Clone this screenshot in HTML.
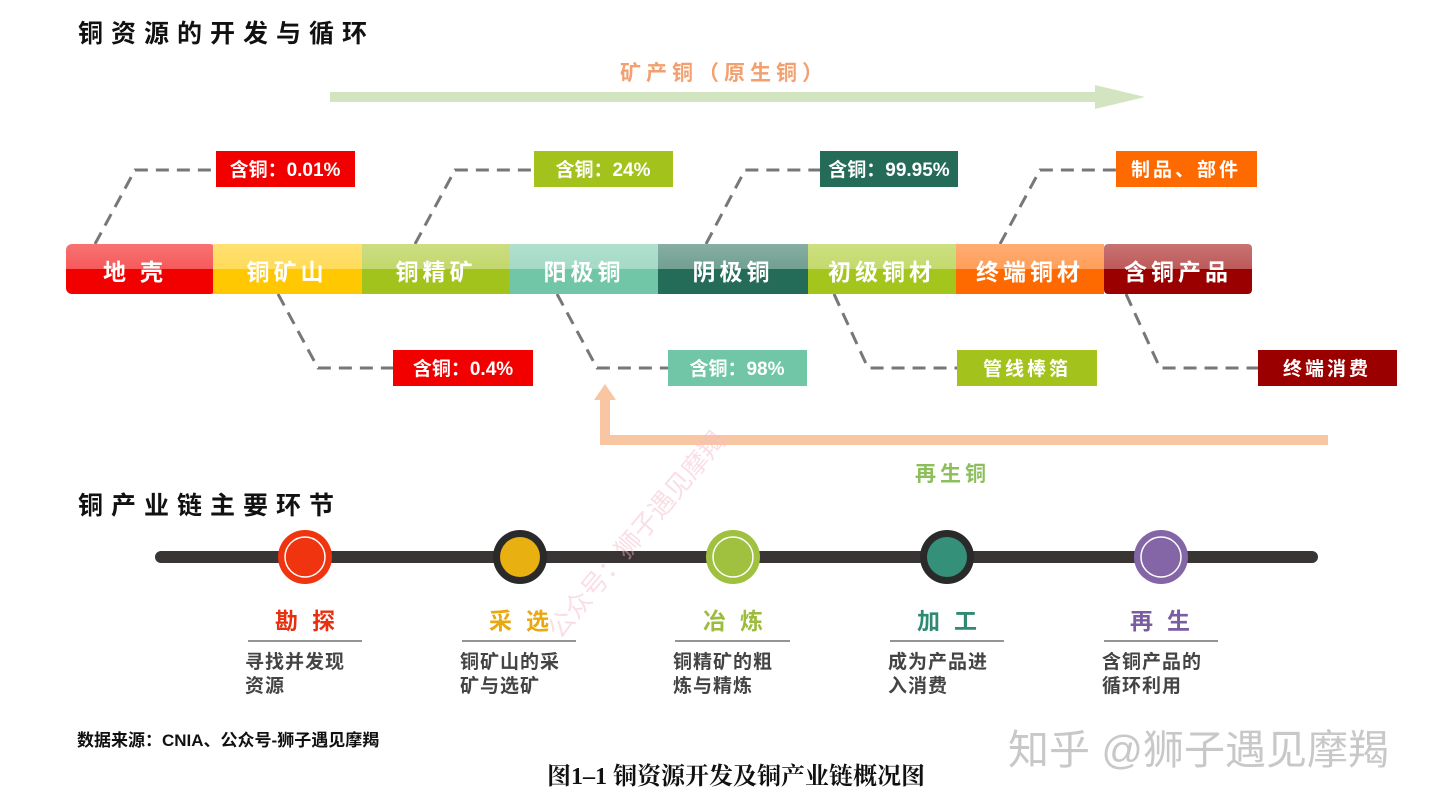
<!DOCTYPE html>
<html><head><meta charset="utf-8"><style>
html,body{margin:0;padding:0;background:#fff;}
svg{display:block;font-family:"Liberation Sans","Noto Sans CJK SC",sans-serif;}
</style></head><body>
<svg width="1440" height="808" viewBox="0 0 1440 808" xmlns="http://www.w3.org/2000/svg">
<defs>
<linearGradient id="g" x1="0" y1="0" x2="0" y2="1"><stop offset="0" stop-color="#fff" stop-opacity="0.45"/><stop offset="0.5" stop-color="#fff" stop-opacity="0.35"/><stop offset="0.5" stop-color="#fff" stop-opacity="0"/><stop offset="1" stop-color="#fff" stop-opacity="0"/></linearGradient>
</defs>
<text x="78" y="42" font-size="25" font-weight="bold" fill="#111" letter-spacing="8">铜资源的开发与循环</text>
<text x="620" y="80" font-size="21" font-weight="bold" fill="#f2a070" letter-spacing="5">矿产铜（原生铜）</text>
<rect x="330" y="92" width="775" height="10" fill="#d3e5c0"/>
<polygon points="1095,85 1145,97 1095,109" fill="#d3e5c0"/>

<g stroke="#777" stroke-width="3" stroke-dasharray="13,8" fill="none">
<polyline points="95,244 135,170 216,170"/>
<polyline points="415,244 455,170 534,170"/>
<polyline points="706,244 745,170 820,170"/>
<polyline points="1000,244 1040,170 1116,170"/>
<polyline points="278,294 318,368 393,368"/>
<polyline points="557,294 597,368 668,368"/>
<polyline points="834,294 868,368 957,368"/>
<polyline points="1126,294 1160,368 1258,368"/>
</g>

<rect x="66" y="244" width="150" height="50" rx="6" fill="#f20000"/>
<rect x="213" y="244" width="149" height="50" fill="#ffc800"/>
<rect x="362" y="244" width="148" height="50" fill="#a2c21c"/>
<rect x="510" y="244" width="148" height="50" fill="#72c6a8"/>
<rect x="658" y="244" width="150" height="50" fill="#256c58"/>
<rect x="808" y="244" width="148" height="50" fill="#a4c61c"/>
<rect x="956" y="244" width="148" height="50" fill="#ff6a00"/>
<rect x="1104" y="244" width="148" height="50" rx="4" fill="#9a0000"/>
<rect x="66" y="244" width="1186" height="50" fill="url(#g)"/>
<g font-size="23" font-weight="bold" fill="#fff" text-anchor="middle" letter-spacing="4">
<text x="140" y="280" letter-spacing="14">地壳</text>
<text x="287" y="280">铜矿山</text>
<text x="436" y="280">铜精矿</text>
<text x="584" y="280">阳极铜</text>
<text x="733" y="280">阴极铜</text>
<text x="882" y="280">初级铜材</text>
<text x="1030" y="280">终端铜材</text>
<text x="1178" y="280">含铜产品</text>
</g>

<rect x="216" y="151" width="139" height="36" fill="#f20000"/>
<rect x="534" y="151" width="139" height="36" fill="#a4c21c"/>
<rect x="820" y="151" width="138" height="36" fill="#256c58"/>
<rect x="1116" y="151" width="141" height="36" fill="#ff6a00"/>
<rect x="393" y="350" width="140" height="36" fill="#f20000"/>
<rect x="668" y="350" width="139" height="36" fill="#72c6a8"/>
<rect x="957" y="350" width="140" height="36" fill="#a4c21c"/>
<rect x="1258" y="350" width="139" height="36" fill="#9a0000"/>
<g font-size="19" font-weight="bold" fill="#fff" text-anchor="middle">
<text x="285" y="176">含铜：0.01%</text>
<text x="603" y="176">含铜：24%</text>
<text x="889" y="176">含铜：99.95%</text>
<text x="1186" y="176" letter-spacing="3">制品、部件</text>
<text x="463" y="375">含铜：0.4%</text>
<text x="737" y="375">含铜：98%</text>
<text x="1027" y="375" letter-spacing="3">管线棒箔</text>
<text x="1327" y="375" letter-spacing="3">终端消费</text>
</g>

<polyline points="1328,440 605,440 605,398" fill="none" stroke="#f9c6a4" stroke-width="10"/>
<polygon points="594,400 605,384 616,400" fill="#f9c6a4"/>
<text x="915" y="481" font-size="21" font-weight="bold" fill="#8cbf5c" letter-spacing="4">再生铜</text>

<text x="78" y="514" font-size="25" font-weight="bold" fill="#111" letter-spacing="8">铜产业链主要环节</text>
<rect x="155" y="551" width="1163" height="12" rx="6" fill="#3a3535"/>
<circle cx="305" cy="557" r="27" fill="#f03410"/><circle cx="305" cy="557" r="20" fill="none" stroke="#fff" stroke-width="1.5"/>
<circle cx="520" cy="557" r="27" fill="#2a2a2a"/><circle cx="520" cy="557" r="20" fill="#e8b010"/>
<circle cx="733" cy="557" r="27" fill="#a0c040"/><circle cx="733" cy="557" r="20" fill="none" stroke="#fff" stroke-width="1.5"/>
<circle cx="947" cy="557" r="27" fill="#2a2a2a"/><circle cx="947" cy="557" r="20" fill="#35907a"/>
<circle cx="1161" cy="557" r="27" fill="#8466a6"/><circle cx="1161" cy="557" r="20" fill="none" stroke="#fff" stroke-width="1.5"/>

<g font-size="23" font-weight="bold" text-anchor="middle" letter-spacing="14">
<text x="312" y="629" fill="#e83010">勘探</text>
<text x="526" y="629" fill="#e8a810">采选</text>
<text x="740" y="629" fill="#9cbc3c">冶炼</text>
<text x="954" y="629" fill="#2f8a72">加工</text>
<text x="1167" y="629" fill="#7a5ca0">再生</text>
</g>
<g stroke="#555" stroke-width="1.3">
<line x1="248" y1="641" x2="362" y2="641"/><line x1="462" y1="641" x2="576" y2="641"/><line x1="675" y1="641" x2="790" y2="641"/><line x1="890" y1="641" x2="1004" y2="641"/><line x1="1104" y1="641" x2="1218" y2="641"/>
</g>
<g font-size="19" font-weight="bold" fill="#444" letter-spacing="1">
<text x="245" y="668">寻找并发现</text><text x="245" y="692">资源</text>
<text x="460" y="668">铜矿山的采</text><text x="460" y="692">矿与选矿</text>
<text x="673" y="668">铜精矿的粗</text><text x="673" y="692">炼与精炼</text>
<text x="888" y="668">成为产品进</text><text x="888" y="692">入消费</text>
<text x="1102" y="668">含铜产品的</text><text x="1102" y="692">循环利用</text>
</g>
<text x="560" y="640" font-size="26" fill="#f4b8c8" opacity="0.45" transform="rotate(-50 560 640)">公众号：狮子遇见摩羯</text>
<text x="77" y="746" font-size="17" font-weight="bold" fill="#111">数据来源：CNIA、公众号-狮子遇见摩羯</text>
<text x="1008" y="764" font-size="41" fill="#c8c8c8">知乎 @狮子遇见摩羯</text>
<text x="736" y="784" font-size="24" font-weight="bold" fill="#111" text-anchor="middle" font-family="Liberation Serif,Noto Serif CJK SC,serif">图1–1 铜资源开发及铜产业链概况图</text>
</svg>
</body></html>
